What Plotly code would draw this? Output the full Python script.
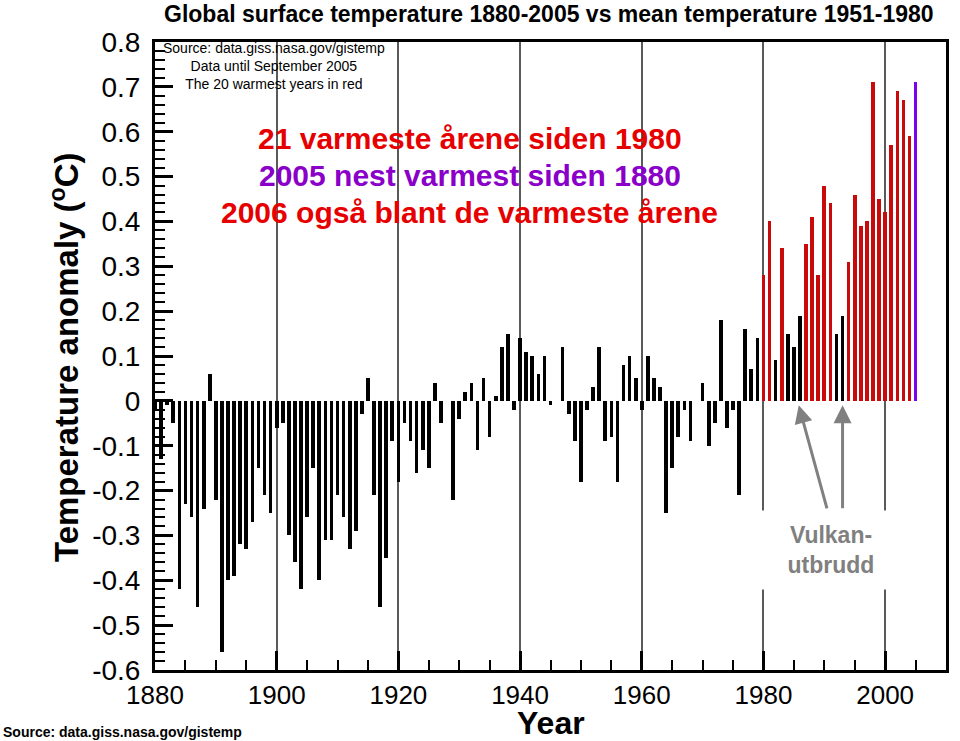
import plotly.graph_objects as go

# ---------------- data ----------------
years = list(range(1880, 2006))
anomaly = [
    -0.02, -0.13, -0.01, -0.05, -0.42, -0.23, -0.26, -0.46, -0.24, 0.06,   # 1880-1889
    -0.22, -0.56, -0.40, -0.39, -0.32, -0.33, -0.27, -0.15, -0.21, -0.25,  # 1890-1899
    -0.06, -0.05, -0.30, -0.36, -0.42, -0.26, -0.15, -0.40, -0.31, -0.31,  # 1900-1909
    -0.21, -0.26, -0.33, -0.29, -0.03, 0.05, -0.21, -0.46, -0.35, -0.09,   # 1910-1919
    -0.18, -0.05, -0.09, -0.16, -0.11, -0.15, 0.04, -0.05, 0.00, -0.22,    # 1920-1929
    -0.04, 0.02, 0.04, -0.11, 0.05, -0.08, 0.01, 0.12, 0.15, -0.02,        # 1930-1939
    0.14, 0.11, 0.10, 0.06, 0.10, -0.01, 0.00, 0.12, -0.03, -0.09,         # 1940-1949
    -0.18, -0.02, 0.03, 0.12, -0.09, -0.08, -0.18, 0.08, 0.10, 0.05,       # 1950-1959
    -0.02, 0.10, 0.05, 0.03, -0.25, -0.15, -0.08, -0.02, -0.09, 0.00,      # 1960-1969
    0.04, -0.10, -0.05, 0.18, -0.06, -0.02, -0.21, 0.16, 0.07, 0.14,       # 1970-1979
    0.28, 0.40, 0.09, 0.34, 0.15, 0.12, 0.19, 0.35, 0.41, 0.28,            # 1980-1989
    0.48, 0.44, 0.15, 0.19, 0.31, 0.46, 0.39, 0.40, 0.71, 0.45,            # 1990-1999
    0.42, 0.57, 0.69, 0.67, 0.59, 0.71,                                    # 2000-2005
]
assert len(anomaly) == len(years)

n_warmest = 20
latest_year = 2005
x_ticks = [1880, 1900, 1920, 1940, 1960, 1980, 2000]
y_ticks = [-0.6, -0.5, -0.4, -0.3, -0.2, -0.1, 0.0, 0.1, 0.2, 0.3, 0.4, 0.5, 0.6, 0.7, 0.8]
y_ticktext = ["-0.6", "-0.5", "-0.4", "-0.3", "-0.2", "-0.1", "0",
              "0.1", "0.2", "0.3", "0.4", "0.5", "0.6", "0.7", "0.8"]
volcano_years = [1986, 1993]

# ---------------- styling ----------------
BLACK = "#000000"
RED_BAR = "#c80a0a"
PURPLE_BAR = "#7d00f0"
RED_TXT = "#e60000"
PURPLE_TXT = "#8a00c8"
GRAY = "#808080"
SANS = "Liberation Sans, Arial, sans-serif"

ranked = sorted(range(len(years)), key=lambda i: anomaly[i])
warm_idx = set(ranked[-n_warmest:])
colors = []
for i, yr in enumerate(years):
    if yr == latest_year:
        colors.append(PURPLE_BAR)
    elif i in warm_idx:
        colors.append(RED_BAR)
    else:
        colors.append(BLACK)

fig = go.Figure()
fig.add_trace(go.Bar(x=years, y=anomaly, width=0.6,
                     marker=dict(color=colors, line=dict(width=0)),
                     showlegend=False, hoverinfo="x+y"))

y_minor = [round(-0.6 + 0.02 * k, 2) for k in range(71)]

fig.update_layout(
    width=960, height=741,
    margin=dict(l=155, r=11, t=42, b=71),
    paper_bgcolor="white", plot_bgcolor="white",
    bargap=0,
    xaxis=dict(
        range=[1880, 2010], tickmode="array", tickvals=x_ticks,
        ticks="inside", ticklen=19, tickwidth=3, tickcolor=BLACK,
        tickfont=dict(family=SANS, size=26, color=BLACK),
        showline=True, linewidth=3, linecolor=BLACK, mirror=True,
        showgrid=True, gridcolor="#5a5a5a", gridwidth=1.5, zeroline=False,
        minor=dict(tickmode="linear", tick0=1880, dtick=5, ticks="inside",
                   ticklen=10, tickwidth=1.5, tickcolor=BLACK, showgrid=False),
    ),
    yaxis=dict(
        range=[-0.6, 0.8], tickmode="array", tickvals=y_ticks, ticktext=y_ticktext,
        ticks="inside", ticklen=18, tickwidth=3, tickcolor=BLACK,
        tickfont=dict(family=SANS, size=28, color=BLACK),
        ticklabelstandoff=6,
        showline=True, linewidth=3, linecolor=BLACK, mirror=True,
        showgrid=False, zeroline=False,
        minor=dict(tickmode="array", tickvals=y_minor, ticks="inside",
                   ticklen=10, tickwidth=1.5, tickcolor=BLACK, showgrid=False),
    ),
)

ann = []
ann.append(dict(text="<b>Global surface temperature 1880-2005 vs mean temperature 1951-1980</b>",
                xref="paper", yref="paper", x=0.4975, y=1.0446, xanchor="center", yanchor="middle",
                showarrow=False, font=dict(family=SANS, size=23, color=BLACK)))
ann.append(dict(text="<b>Temperature anomaly (<sup>o</sup>C)</b>", textangle=-90,
                xref="paper", yref="paper", x=-0.114, y=0.498, xanchor="center", yanchor="middle",
                showarrow=False, font=dict(family=SANS, size=33, color=BLACK)))
ann.append(dict(text="<b>Year</b>",
                xref="paper", yref="paper", x=0.501, y=-0.085, xanchor="center", yanchor="middle",
                showarrow=False, font=dict(family=SANS, size=32, color=BLACK)))
ann.append(dict(text="Source: data.giss.nasa.gov/gistemp<br>Data until September 2005<br>The 20 warmest years in red",
                xref="paper", yref="paper", x=0.151, y=0.9618, xanchor="center", yanchor="middle",
                align="center", showarrow=False, font=dict(family=SANS, size=14, color=BLACK)))
for txt, yy, col in [("21 varmeste årene siden 1980", 0.847, RED_TXT),
                     ("2005 nest varmest siden 1880", 0.788, PURPLE_TXT),
                     ("2006 også blant de varmeste årene", 0.729, RED_TXT)]:
    ann.append(dict(text="<b>" + txt + "</b>", xref="paper", yref="paper", x=0.398, y=yy,
                    xanchor="center", yanchor="middle", showarrow=False,
                    font=dict(family=SANS, size=30, color=col)))
ann.append(dict(text="<b>Vulkan-<br>utbrudd</b>", xref="paper", yref="paper", x=0.854, y=0.191,
                xanchor="center", yanchor="middle", align="center", showarrow=False,
                width=146, height=78, bgcolor="white", borderpad=0,
                font=dict(family=SANS, size=23, color=GRAY)))
# arrows pointing to volcanic-eruption years
arrow_tails = [(1990.5, -0.243), (1993.0, -0.243)]
for vy, (tx, ty) in zip(volcano_years, arrow_tails):
    ann.append(dict(x=vy - 0.2 if vy == 1986 else vy, y=-0.01, xref="x", yref="y",
                    ax=tx, ay=ty, axref="x", ayref="y", text="",
                    showarrow=True, arrowhead=2, arrowsize=1.2, arrowwidth=3, arrowcolor=GRAY))
ann.append(dict(text="<b>Source: data.giss.nasa.gov/gistemp</b>",
                xref="paper", yref="paper", x=-0.1952, y=-0.0987, xanchor="left", yanchor="middle",
                showarrow=False, font=dict(family=SANS, size=14, color=BLACK)))
fig.update_layout(annotations=ann)

fig.write_html("out.html", config={"displayModeBar": False},
               post_script="document.body.style.margin='0';document.body.style.padding='0';")
